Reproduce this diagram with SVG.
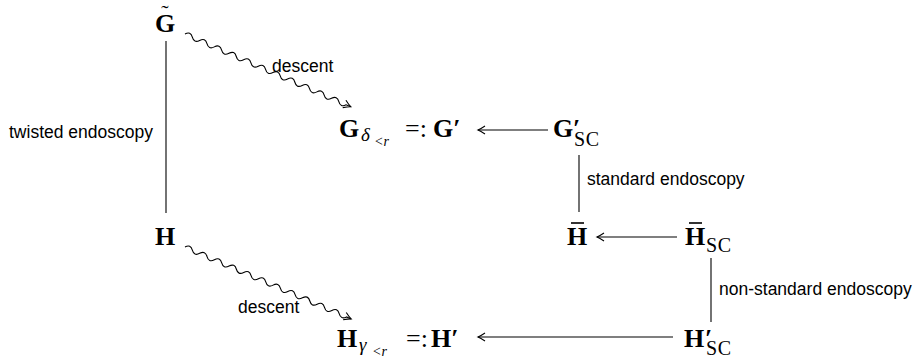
<svg xmlns="http://www.w3.org/2000/svg" width="918" height="359" viewBox="0 0 918 359">
<style>
.m{font-family:"Liberation Serif","Times New Roman",serif;font-weight:bold;font-size:26px;fill:#000}
.r{font-family:"Liberation Serif","Times New Roman",serif;font-size:26px;fill:#000}
.tl{font-family:"Liberation Serif","Times New Roman",serif;font-size:22px;fill:#000}
.sc{font-family:"Liberation Serif","Times New Roman",serif;font-size:20px;letter-spacing:0.6px;fill:#000}
.it{font-family:"Liberation Serif","Times New Roman",serif;font-style:italic;font-size:19px;fill:#000}
.it2{font-family:"Liberation Serif","Times New Roman",serif;font-style:italic;font-size:14px;fill:#000}
.lb{font-family:"Liberation Sans",Arial,sans-serif;font-size:17.5px;fill:#000}
.ln{stroke:#000;stroke-width:1.1;fill:none}
.bar{stroke:#000;stroke-width:1.6}
</style>
<defs>
<marker id="ah" markerUnits="userSpaceOnUse" viewBox="-9 -6 11 12" refX="0" refY="0" markerWidth="11" markerHeight="12" orient="auto">
<path d="M-7,-4 Q-2.5,-1 0,0 Q-2.5,1 -7,4" fill="none" stroke="#000" stroke-width="1.1"/>
</marker>
</defs>
<g id="connectors">
<line class="ln" x1="166" y1="41" x2="166" y2="213"/>
<line class="ln" x1="579" y1="155" x2="579" y2="212"/>
<line class="ln" x1="711" y1="258" x2="711" y2="322"/>
<line class="ln" x1="548" y1="130" x2="478" y2="130" marker-end="url(#ah)"/>
<line class="ln" x1="677" y1="237" x2="597" y2="237" marker-end="url(#ah)"/>
<line class="ln" x1="673" y1="337" x2="478" y2="337" marker-end="url(#ah)"/>
<path class="ln" transform="translate(185,34) rotate(23.7)" d="M0,0 q4,-5 8,0 t8,0 t8,0 t8,0 t8,0 t8,0 t8,0 t8,0 t8,0 t8,0 t8,0 t8,0 t8,0 t8,0 t8,0 t8,0 t8,0 t8,0 t8,0 t8,0 t8,0 t8,0 l5,0" marker-end="url(#ah)"/>
<path class="ln" transform="translate(185,247) rotate(23.4)" d="M0,0 q4,-5 8,0 t8,0 t8,0 t8,0 t8,0 t8,0 t8,0 t8,0 t8,0 t8,0 t8,0 t8,0 t8,0 t8,0 t8,0 t8,0 t8,0 t8,0 t8,0 t8,0 t8,0 t8,0 l5,0" marker-end="url(#ah)"/>
<text class="lb" x="9" y="138">twisted endoscopy</text>
<text class="lb" x="587" y="185">standard endoscopy</text>
<text class="lb" x="719" y="295">non-standard endoscopy</text>
<text class="lb" x="272" y="72">descent</text>
<text class="lb" x="238" y="313">descent</text>
</g>
<g id="Gtilde">
<text class="m" x="155" y="32">G</text>
<text class="tl" x="165" y="20" text-anchor="middle">˜</text>
</g>
<g id="Gdelta">
<text class="m" x="339" y="137">G</text>
<text class="it" x="361" y="141">δ</text>
<text class="it2" x="374" y="146">&lt;r</text>
<text class="r" x="405" y="137">=:</text>
<text class="m" x="433" y="137">G′</text>
</g>
<g id="GSC">
<text class="m" x="553" y="137">G</text>
<text class="m" x="573" y="137">′</text>
<text class="sc" x="574" y="146">SC</text>
</g>
<g id="H">
<text class="m" x="155" y="245">H</text>
</g>
<g id="Hbar">
<text class="m" x="567" y="245">H</text>
<line class="bar" x1="571" y1="223" x2="584" y2="223"/>
</g>
<g id="HbarSC">
<text class="m" x="685" y="245">H</text>
<line class="bar" x1="689" y1="223" x2="702" y2="223"/>
<text class="sc" x="706" y="252">SC</text>
</g>
<g id="Hgamma">
<text class="m" x="337" y="347">H</text>
<text class="it" x="359" y="351">γ</text>
<text class="it2" x="372" y="356">&lt;r</text>
<text class="r" x="406" y="347">=:</text>
<text class="m" x="431" y="347">H′</text>
</g>
<g id="HSC">
<text class="m" x="684" y="347">H</text>
<text class="m" x="705" y="347">′</text>
<text class="sc" x="706" y="355">SC</text>
</g>
</svg>
